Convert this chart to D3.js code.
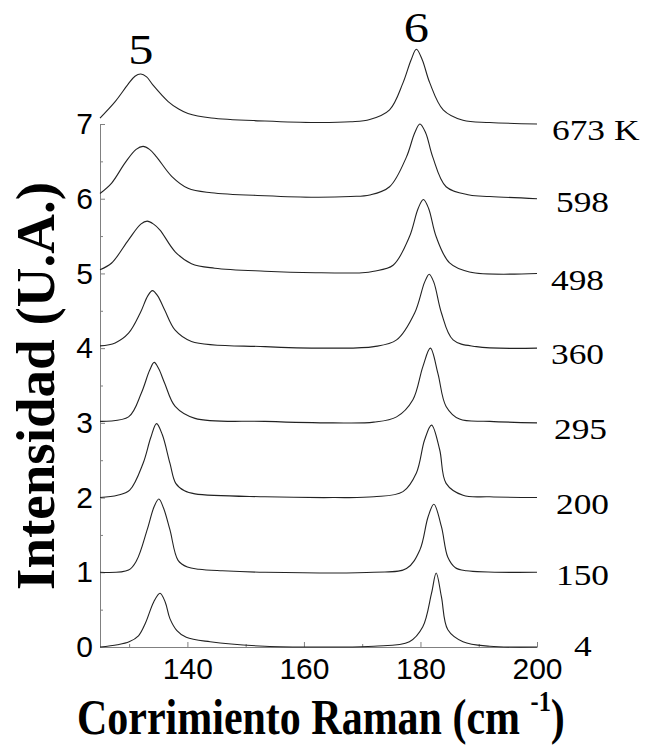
<!DOCTYPE html>
<html>
<head>
<meta charset="utf-8">
<script src="https://cdn.jsdelivr.net/npm/d3@7/dist/d3.min.js"></script>
<style>
  html, body { margin: 0; padding: 0; background: #fff; }
  svg { display: block; }
</style>
</head>
<body>
<svg id="chart" width="653" height="747"></svg>
<script>
// ---------- DATA ----------
// Temperature labels, top to bottom
const temperatures = ["673 K", "598", "498", "360", "295", "200", "150", "4"];
// Vertical offset (stacking level) of each spectrum
const offsets = [7, 6, 5, 4, 3, 2, 1, 0];
// Peak labels and their wavenumbers (cm^-1), placed above the top spectrum
const peakLabels = ["5", "6"];
const peakPositions = [132, 179.3];
// Axis ticks
const yTicks = [0, 1, 2, 3, 4, 5, 6, 7];
const yMinorTicks = [0.5, 1.5, 2.5, 3.5, 4.5, 5.5, 6.5];
const xTicks = [140, 160, 180, 200];
const xMinorTicks = [130, 150, 170, 190];

// Spectra: [Raman shift (cm^-1), intensity (stacked, U.A.)]
const spectrum673 = [[125,7.08],[127.6,7.30],[129.8,7.53],[131,7.64],[132,7.67],[133,7.63],[134.1,7.52],[136.7,7.30],[138.5,7.20],[140.1,7.14],[144.1,7.08],[153.3,7.04],[162,7.02],[168,7.03],[171.3,7.06],[174.7,7.19],[177,7.55],[178.4,7.86],[179.3,8.0],[180.3,7.86],[181.6,7.55],[183.9,7.19],[187.3,7.05],[191.9,7.02],[200,7.0]];
const spectrum598 = [[125,6.07],[127,6.21],[129.3,6.48],[131.2,6.66],[132.4,6.70],[133.5,6.66],[134.7,6.56],[137.3,6.30],[140.1,6.14],[144.1,6.08],[153.3,6.04],[162,6.02],[168,6.03],[171.3,6.05],[174.7,6.16],[177.6,6.56],[179,6.88],[179.9,7.0],[180.9,6.88],[182.1,6.56],[184.4,6.16],[188.4,6.05],[191.9,6.03],[200,6.0]];
const spectrum498 = [[125,5.05],[127,5.14],[129.9,5.45],[132,5.66],[133.1,5.70],[134.2,5.66],[135.3,5.58],[137.9,5.29],[140.7,5.13],[144.7,5.07],[153.3,5.03],[162,5.01],[170,5.01],[172,5.03],[175.3,5.11],[178.1,5.49],[179.6,5.87],[180.5,5.99],[181.4,5.87],[182.7,5.49],[185,5.14],[188.4,5.02],[200,5.0]];
const spectrum360 = [[125,4.03],[127.6,4.07],[129.9,4.20],[131.9,4.47],[133.2,4.70],[134,4.77],[134.9,4.70],[136.1,4.51],[137.9,4.24],[140.7,4.09],[153.3,4.02],[165,4.0],[172,4.02],[175.9,4.11],[179,4.47],[180.7,4.88],[181.5,4.99],[182.3,4.88],[183.6,4.47],[185.6,4.11],[189.6,4.02],[200,4.0]];
const spectrum295 = [[125,3.02],[129.9,3.08],[132.1,3.40],[133.5,3.70],[134.3,3.81],[135.1,3.72],[136.1,3.53],[137.9,3.22],[141.3,3.06],[153.3,3.02],[165,3.0],[172,3.01],[175.9,3.08],[178.7,3.31],[180.4,3.75],[181.7,4.0],[183,3.66],[184.4,3.22],[186.7,3.05],[191.9,3.02],[200,3.0]];
const spectrum200 = [[125,2.0],[128,2.03],[130.1,2.10],[132.4,2.46],[133.7,2.80],[134.7,2.99],[135.7,2.84],[137,2.46],[138,2.19],[139.5,2.09],[141.3,2.05],[153.3,2.01],[165,2.0],[172,2.01],[177,2.08],[179.3,2.33],[180.7,2.77],[181.9,2.97],[183.3,2.64],[184.4,2.19],[187.3,2.03],[191.9,2.01],[200,2.0]];
const spectrum150 = [[125,1.0],[129.9,1.03],[131.3,1.16],[133.1,1.57],[134.3,1.88],[135.1,1.98],[135.9,1.86],[137,1.57],[138.4,1.16],[140,1.07],[142,1.04],[146,1.02],[153.3,1.0],[172,1.0],[177.6,1.05],[179.9,1.30],[181.3,1.74],[182.3,1.91],[183.6,1.61],[184.7,1.20],[186,1.06],[187.9,1.02],[200,1.0]];
const spectrum4 = [[125,0.0],[128,0.03],[130,0.07],[131.6,0.15],[132.8,0.32],[134.2,0.60],[135.3,0.72],[136.2,0.60],[137,0.38],[138.2,0.22],[139.8,0.13],[143.9,0.07],[153.3,0.01],[165,0.0],[172,0.01],[178.1,0.07],[180.4,0.27],[181.9,0.72],[182.7,0.99],[183.6,0.67],[184.7,0.23],[187.3,0.07],[191.9,0.01],[200,0.0]];

const spectra = [spectrum673, spectrum598, spectrum498, spectrum360, spectrum295, spectrum200, spectrum150, spectrum4];

// ---------- LAYOUT ----------
const svg = d3.select("#chart");
const x = d3.scaleLinear().domain([125, 200]).range([100, 537]);
const y = d3.scaleLinear().domain([0, 7]).range([647, 124]);
const axisColor = "#808080";
const sans = "'Liberation Sans', Arial, Helvetica, sans-serif";
const serif = "'Liberation Serif', 'Times New Roman', Times, serif";

// Left axis (ticks pointing inward)
const gy = svg.append("g").attr("transform", "translate(100,0)")
  .call(d3.axisLeft(y).tickValues(yTicks).tickFormat(d3.format("d"))
    .tickSizeInner(-5).tickSizeOuter(0).tickPadding(7));
gy.select(".domain").attr("stroke", axisColor);
gy.selectAll(".tick line").attr("stroke", axisColor);
gy.selectAll(".tick text").attr("font-family", sans).attr("font-size", 30).attr("fill", "#000");

const gyMinor = svg.append("g").attr("transform", "translate(100,0)")
  .call(d3.axisLeft(y).tickValues(yMinorTicks).tickFormat("").tickSizeInner(-3).tickSizeOuter(0));
gyMinor.select(".domain").remove();
gyMinor.selectAll(".tick line").attr("stroke", axisColor);

// Bottom axis (ticks pointing inward)
const gx = svg.append("g").attr("transform", "translate(0,647)")
  .call(d3.axisBottom(x).tickValues(xTicks).tickFormat(d3.format("d"))
    .tickSizeInner(-5).tickSizeOuter(0).tickPadding(11));
gx.select(".domain").attr("stroke", axisColor);
gx.selectAll(".tick line").attr("stroke", axisColor);
gx.selectAll(".tick text").attr("font-family", sans).attr("font-size", 30).attr("fill", "#000");

const gxMinor = svg.append("g").attr("transform", "translate(0,647)")
  .call(d3.axisBottom(x).tickValues(xMinorTicks).tickFormat("").tickSizeInner(-3).tickSizeOuter(0));
gxMinor.select(".domain").remove();
gxMinor.selectAll(".tick line").attr("stroke", axisColor);

// Spectra
const line = d3.line()
  .x(d => x(d[0]))
  .y(d => y(d[1]))
  .curve(d3.curveCatmullRom.alpha(0.5));

svg.append("g").selectAll("path")
  .data(spectra)
  .join("path")
  .attr("d", line)
  .attr("fill", "none")
  .attr("stroke", "#222")
  .attr("stroke-width", 1.1);

// Temperature labels at right
const labelX = [552, 556, 551, 551, 554, 556, 556, 574];
const labelDy = [6, 3, 7, 5.5, 6, 6, 3, -1];
svg.append("g").selectAll("text")
  .data(temperatures)
  .join("text")
  .attr("transform", (d, i) => `translate(${labelX[i]},${y(offsets[i]) + labelDy[i] + 10}) scale(1.22,1)`)
  .attr("font-family", serif)
  .attr("font-size", 29)
  .attr("fill", "#000")
  .text(d => d);

// Peak labels
svg.append("g").selectAll("text")
  .data(peakLabels)
  .join("text")
  .attr("transform", (d, i) => `translate(${x(peakPositions[i])},${i === 0 ? 64 : 42}) scale(1.2,1)`)
  .attr("text-anchor", "middle")
  .attr("font-family", serif)
  .attr("font-size", 42)
  .attr("fill", "#000")
  .text(d => d);

// X axis title
const xt = svg.append("text")
  .attr("transform", "translate(77,734) scale(0.84,1)")
  .attr("font-family", serif)
  .attr("font-weight", "bold")
  .attr("font-size", 50)
  .attr("fill", "#000");
xt.append("tspan").text("Corrimiento Raman (cm ");
xt.append("tspan").attr("font-size", 29).attr("dy", -23).text("-1");
xt.append("tspan").attr("dy", 23).text(")");

// Y axis title
svg.append("text")
  .attr("transform", "translate(54,386) rotate(-90)")
  .attr("text-anchor", "middle")
  .attr("font-family", serif)
  .attr("font-weight", "bold")
  .attr("font-size", 55)
  .attr("fill", "#000")
  .text("Intensidad (U.A.)");
</script>
</body>
</html>
